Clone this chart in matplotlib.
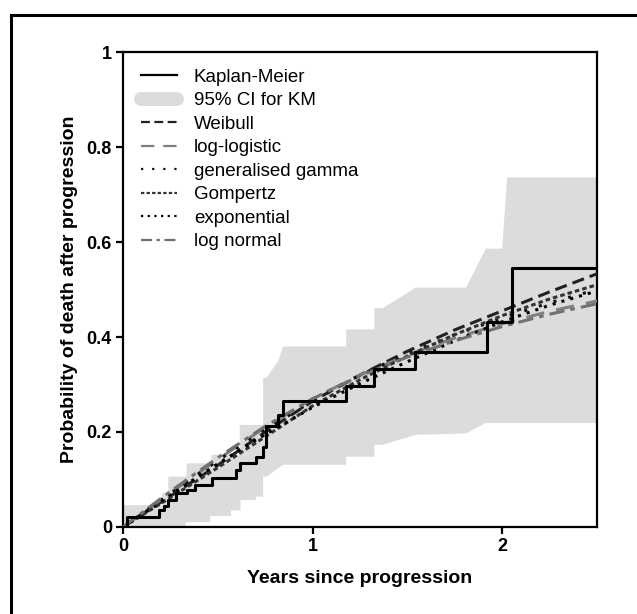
import numpy as np
import matplotlib.pyplot as plt
from matplotlib.lines import Line2D

plt.rcParams['font.family'] = ['Liberation Sans', 'DejaVu Sans']

# Kaplan-Meier step curve (time in years, cumulative probability of death)
km_t = [0, 0.023, 0.191, 0.215, 0.239, 0.282, 0.335, 0.379, 0.467, 0.595, 0.616,
        0.704, 0.739, 0.756, 0.818, 0.844, 1.177, 1.326, 1.542, 1.918, 2.051, 2.5]
km_p = [0, 0.020, 0.035, 0.045, 0.057, 0.071, 0.078, 0.089, 0.103, 0.120, 0.134,
        0.148, 0.169, 0.212, 0.236, 0.266, 0.296, 0.333, 0.369, 0.431, 0.546, 0.546]

# 95% CI outline for the KM estimate
ci_up_t = [0, 0.205, 0.205, 0.239, 0.239, 0.335, 0.335, 0.467, 0.467, 0.616, 0.616,
           0.739, 0.739, 0.756, 0.818, 0.844, 1.177, 1.177, 1.326, 1.326, 1.37,
           1.545, 1.809, 1.914, 2.0, 2.026, 2.5]
ci_up_p = [0.046, 0.046, 0.071, 0.071, 0.106, 0.106, 0.134, 0.134, 0.152, 0.152, 0.215,
           0.215, 0.314, 0.314, 0.349, 0.380, 0.380, 0.416, 0.416, 0.461, 0.461,
           0.504, 0.504, 0.586, 0.586, 0.736, 0.736]
ci_lo_t = [0, 0.33, 0.33, 0.46, 0.46, 0.57, 0.57, 0.62, 0.62, 0.70, 0.70, 0.739, 0.739,
           0.756, 0.844, 1.177, 1.177, 1.326, 1.326, 1.37, 1.545, 1.809, 1.914, 2.5]
ci_lo_p = [0, 0, 0.010, 0.010, 0.023, 0.023, 0.035, 0.035, 0.057, 0.057, 0.064, 0.064, 0.106,
           0.106, 0.131, 0.131, 0.148, 0.148, 0.173, 0.173, 0.194, 0.197, 0.219, 0.219]

# fitted parametric curves
fit_t = [0, 0.25, 0.5, 0.75, 1.0, 1.25, 1.5, 1.75, 2.0, 2.25, 2.5]
weibull = [0, 0.065, 0.130, 0.200, 0.265, 0.320, 0.370, 0.415, 0.455, 0.495, 0.533]
loglogistic = [0, 0.072, 0.142, 0.210, 0.270, 0.320, 0.362, 0.398, 0.428, 0.454, 0.476]
gengamma = [0, 0.070, 0.140, 0.205, 0.265, 0.320, 0.365, 0.405, 0.440, 0.472, 0.500]
gompertz = [0, 0.062, 0.125, 0.190, 0.255, 0.310, 0.360, 0.405, 0.445, 0.480, 0.510]
exponential = [0, 0.068, 0.133, 0.195, 0.252, 0.302, 0.348, 0.392, 0.432, 0.467, 0.497]
lognormal = [0, 0.075, 0.146, 0.212, 0.270, 0.318, 0.358, 0.392, 0.422, 0.448, 0.470]

fig = plt.figure(figsize=(6.37, 6.14), dpi=100)
ax = fig.add_axes([0.1931, 0.1417, 0.7441, 0.7736])

# outer border
fig.add_artist(Line2D([11 / 637, 1], [1 - 15 / 614, 1 - 15 / 614], color='black', lw=2.2,
                      transform=fig.transFigure))
fig.add_artist(Line2D([11 / 637, 11 / 637], [0, 1 - 15 / 614], color='black', lw=2.2,
                      transform=fig.transFigure))

ci_color = '#dcdcdc'
ax.fill(np.concatenate([ci_up_t, ci_lo_t[::-1]]), np.concatenate([ci_up_p, ci_lo_p[::-1]]),
        color=ci_color, lw=0, zorder=1)

styles = [
    ('#222222', (4, 2)),          # Weibull
    ('#808080', (6, 4)),          # log-logistic
    ('#111111', (1, 4)),          # generalised gamma
    ('#333333', (1.5, 1)),        # Gompertz
    ('#000000', (1, 2)),          # exponential
    ('#707070', (5, 2, 1.5, 2)),  # log normal
]
curves = [weibull, loglogistic, gengamma, gompertz, exponential, lognormal]

lw = 2.2
for (c, d), vals in zip(styles, curves):
    ax.plot(fit_t, vals, color=c, lw=lw, dashes=d, zorder=3)
ax.step(km_t, km_p, where='post', color='black', lw=2.2, zorder=4)

handles = [Line2D([], [], color='black', lw=1.6),
           Line2D([], [], color=ci_color, lw=10, solid_capstyle='round')]
handles += [Line2D([], [], color=c, lw=1.6, dashes=d) for c, d in styles]
labels = ['Kaplan-Meier', '95% CI for KM', 'Weibull', 'log-logistic',
          'generalised gamma', 'Gompertz', 'exponential', 'log normal']
ax.legend(handles, labels, loc='upper left', bbox_to_anchor=(0.022, 0.981), frameon=False,
          fontsize=13.5, handlelength=1.92, handletextpad=0.9, labelspacing=0.34,
          borderaxespad=0)

ax.set_xlim(0, 2.5)
ax.set_ylim(0, 1)
ax.set_xticks([0, 1, 2])
ax.set_xticklabels(['0', '1', '2'])
ax.set_yticks([0, 0.2, 0.4, 0.6, 0.8, 1])
ax.set_yticklabels(['0', '0.2', '0.4', '0.6', '0.8', '1'])
for s in ax.spines.values():
    s.set_linewidth(1.6)
ax.tick_params(direction='out', length=5, width=1.6, labelsize=13, pad=3)
for lab in ax.get_xticklabels() + ax.get_yticklabels():
    lab.set_fontweight('bold')
ax.set_xlabel('Years since progression', fontsize=14, fontweight='bold', labelpad=11)
ax.set_ylabel('Probability of death after progression', fontsize=14, fontweight='bold',
              labelpad=6)

fig.savefig('out.png', dpi=100)
